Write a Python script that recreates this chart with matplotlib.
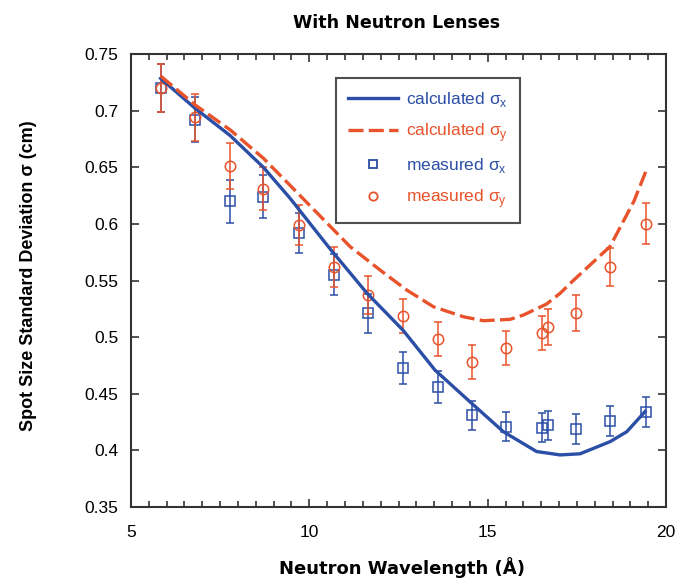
import numpy as np
import matplotlib.pyplot as plt
from matplotlib.ticker import MultipleLocator
from matplotlib.lines import Line2D

plt.rcParams['font.family'] = ['Liberation Sans', 'DejaVu Sans']

# measured points (wavelength in Angstrom, sigma in cm)
lam = [5.83, 6.80, 7.78, 8.71, 9.71, 10.69, 11.65, 12.63, 13.60, 14.57,
       15.51, 16.51, 16.70, 17.49, 18.43, 19.43]
sig_x = [0.720, 0.692, 0.620, 0.624, 0.592, 0.555, 0.521, 0.473, 0.456, 0.431,
         0.421, 0.420, 0.422, 0.419, 0.426, 0.434]
err_x = [0.021, 0.020, 0.019, 0.019, 0.018, 0.018, 0.017, 0.014, 0.014, 0.013,
         0.013, 0.013, 0.013, 0.013, 0.013, 0.013]
sig_y = [0.720, 0.694, 0.651, 0.631, 0.599, 0.562, 0.537, 0.519, 0.498, 0.478,
         0.490, 0.504, 0.509, 0.521, 0.562, 0.600]
err_y = [0.021, 0.021, 0.020, 0.019, 0.018, 0.018, 0.017, 0.015, 0.015, 0.015,
         0.015, 0.015, 0.016, 0.016, 0.017, 0.018]

# calculated curves
lam_cx = [5.83, 6.80, 7.78, 8.71, 9.46, 10.58, 11.61, 12.63, 13.52, 14.50,
          15.44, 16.37, 17.03, 17.59, 18.43, 18.90, 19.41]
calc_x = [0.7285, 0.702, 0.678, 0.650, 0.6226, 0.578, 0.539, 0.506, 0.471, 0.443,
          0.4165, 0.399, 0.396, 0.397, 0.4077, 0.4165, 0.4342]
lam_cy = [5.83, 6.80, 7.78, 8.71, 9.46, 11.14, 11.98, 12.73, 13.48, 14.32,
          14.88, 15.63, 16.00, 16.65, 17.03, 17.40, 18.43, 19.10, 19.43]
calc_y = [0.7306, 0.705, 0.683, 0.658, 0.634, 0.580, 0.5593, 0.5416, 0.5268, 0.518,
          0.5145, 0.5157, 0.5195, 0.5292, 0.5387, 0.550, 0.580, 0.620, 0.646]

blue = '#2b4ea6'
orange = '#e8532b'

fig = plt.figure(figsize=(6.79, 5.85), dpi=100)
ax = fig.add_axes([0.1929, 0.1333, 0.788, 0.7744])

ax.errorbar(lam, sig_x, yerr=err_x, fmt='s', ms=7, mfc='none', mec=blue, mew=1.1,
            ecolor=blue, elinewidth=1.1, capsize=3, capthick=1.1, zorder=2)
ax.errorbar(lam, sig_y, yerr=err_y, fmt='o', ms=7.5, mfc='none', mec=orange, mew=1.1,
            ecolor=orange, elinewidth=1.1, capsize=3, capthick=1.1, zorder=3)
ax.plot(lam_cx, calc_x, color=blue, lw=2.4, zorder=4)
ax.plot(lam_cy, calc_y, color=orange, lw=2.4, dashes=(4.5, 1.6), zorder=4)

ax.set_xlim(5, 20)
ax.set_ylim(0.35, 0.75)
ax.xaxis.set_major_locator(MultipleLocator(5))
ax.xaxis.set_minor_locator(MultipleLocator(0.5))
ax.set_yticks([0.35, 0.4, 0.45, 0.5, 0.55, 0.6, 0.65, 0.7, 0.75])
ax.set_yticklabels(['0.35', '0.4', '0.45', '0.5', '0.55', '0.6', '0.65', '0.7', '0.75'])
ax.tick_params(which='both', direction='in', top=True, right=True, labelsize=12.5,
               color='#333333', width=1.2)
ax.tick_params(which='major', length=6)
ax.tick_params(which='minor', length=4)
ax.tick_params(axis='x', which='major', pad=13)
ax.tick_params(axis='y', which='major', pad=9)
for s in ax.spines.values():
    s.set_linewidth(1.5)
    s.set_color('#333333')

ax.set_xlabel('Neutron Wavelength (Å)', fontsize=13, fontweight='bold', family='DejaVu Sans')
ax.xaxis.set_label_coords(0.507, -0.11)
ax.set_ylabel('Spot Size Standard Deviation σ (cm)', fontsize=13, fontweight='bold')
ax.yaxis.set_label_coords(-0.176, 0.51)
fig.text(397 / 679, 1 - 23 / 585, 'With Neutron Lenses', fontsize=12.6,
         fontweight='bold', family='DejaVu Sans', ha='center', va='center')

handles = [
    Line2D([], [], color=blue, lw=2.4),
    Line2D([], [], color=orange, lw=2.4, dashes=(4.5, 1.6)),
    Line2D([], [], ls='none', marker='s', ms=6, mfc='none', mec=blue, mew=1.3),
    Line2D([], [], ls='none', marker='o', ms=6, mfc='none', mec=orange, mew=1.3),
]
labels = ['calculated σ$_{\\mathregular{x}}$', 'calculated σ$_{\\mathregular{y}}$',
          'measured σ$_{\\mathregular{x}}$', 'measured σ$_{\\mathregular{y}}$']
leg = ax.legend(handles, labels, loc='upper left', bbox_to_anchor=(0.383, 0.947),
                fontsize=12.5, frameon=True, fancybox=False, edgecolor='#222222',
                handlelength=2.9, borderpad=0.7, labelspacing=0.7, handletextpad=0.45,
                borderaxespad=0)
leg.get_frame().set_linewidth(1.5)
for txt, c in zip(leg.get_texts(), [blue, orange, blue, orange]):
    txt.set_color(c)

fig.savefig('out.png', dpi=100)
